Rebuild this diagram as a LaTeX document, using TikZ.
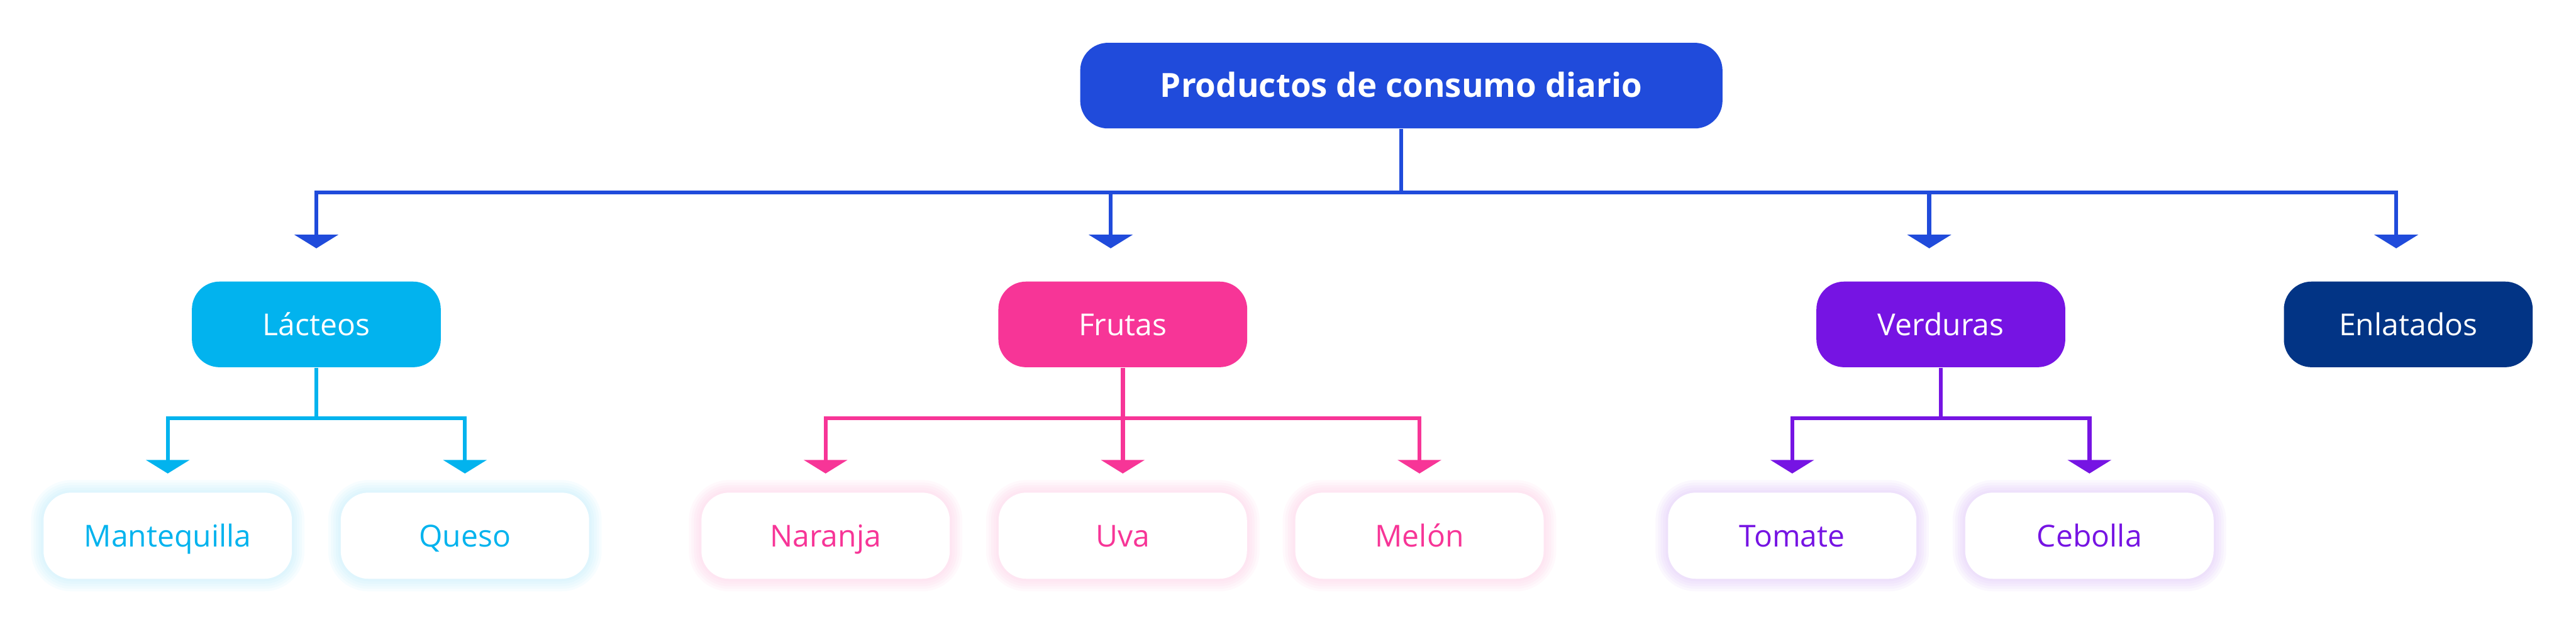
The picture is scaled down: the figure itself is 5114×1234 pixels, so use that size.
\documentclass[tikz,border=0pt]{standalone}
\usepackage{fontspec}
\setmainfont{Open Sans}
\usetikzlibrary{arrows.meta,calc}
\definecolor{rootblue}{HTML}{204BDB}
\definecolor{lacc}{HTML}{02B3EE}
\definecolor{fruc}{HTML}{F73597}
\definecolor{verc}{HTML}{7614E3}
\definecolor{enlc}{HTML}{023485}
\tikzset{tri/.tip={Triangle[length=5.4pt,width=17.2pt]}}
\begin{document}
\begin{tikzpicture}[x=0.2pt,y=-0.2pt,
  box/.style={rounded corners=11pt, inner sep=0pt, text height=8.6pt, text depth=0pt,
    font=\fontsize{12}{14}\selectfont},
  rootbox/.style={box, fill=rootblue, text=white, minimum width=255pt, minimum height=34pt,
    text height=9.4pt, font=\bfseries\fontsize{13.2}{15}\selectfont},
  catbox/.style={box, fill=#1, text=white, minimum width=98.8pt, minimum height=34pt},
  leafbox/.style={box, fill=white, text=#1, minimum width=98.6pt, minimum height=34.2pt,
    preaction={draw=#1!20, line width=10pt, draw opacity=0.15},
    preaction={draw=#1!20, line width=8pt, draw opacity=0.16},
    preaction={draw=#1!20, line width=6pt, draw opacity=0.18},
    preaction={draw=#1!20, line width=4pt, draw opacity=0.2},
    preaction={draw=#1!20, line width=2pt, draw opacity=0.22}},
  conn/.style={draw=#1, line width=1.6pt}
]
\useasboundingbox (0,0) rectangle (5114,1234);

% nodes
\node[rootbox] (root) at (2782,170) {Productos de consumo diario};
\node[catbox=lacc] (lac) at (628,644) {Lácteos};
\node[catbox=fruc] (fru) at (2229,644) {Frutas};
\node[catbox=verc] (ver) at (3853,644) {Verduras};
\node[catbox=enlc] (enl) at (4781,644) {Enlatados};

\node[leafbox=lacc] (mant) at (333,1063.5) {Mantequilla};
\node[leafbox=lacc] (queso) at (923,1063.5) {Queso};
\node[leafbox=fruc] (nar) at (1639,1063.5) {Naranja};
\node[leafbox=fruc] (uva) at (2229,1063.5) {Uva};
\node[leafbox=fruc] (mel) at (2818,1063.5) {Melón};
\node[leafbox=verc] (tom) at (3558,1063.5) {Tomate};
\node[leafbox=verc] (ceb) at (4148,1063.5) {Cebolla};

% main connectors
\coordinate (busc) at (2782,382);
\coordinate (t1) at (628,493);
\coordinate (b2) at (2205,382);
\coordinate (t2) at (2205,493);
\coordinate (b3) at (3830,382);
\coordinate (t3) at (3830,493);
\coordinate (t4) at (4757,493);
\draw[conn=rootblue] (root.south) -- (busc);
\draw[conn=rootblue, tri-tri] (t1) |- (busc) -| (t4);
\draw[conn=rootblue, -tri] (b2) -- (t2);
\draw[conn=rootblue, -tri] (b3) -- (t3);

% Lacteos
\coordinate (lsub) at (628,830);
\draw[conn=lacc] (lac.south) -- (lsub);
\draw[conn=lacc, tri-tri] ($(mant.north)+(0,-37)$) |- (lsub) -| ($(queso.north)+(0,-37)$);

% Frutas
\coordinate (fsub) at (2229,830);
\draw[conn=fruc] (fru.south) -- (fsub);
\draw[conn=fruc, tri-tri] ($(nar.north)+(0,-37)$) |- (fsub) -| ($(mel.north)+(0,-37)$);
\draw[conn=fruc, -tri] (fsub) -- ($(uva.north)+(0,-37)$);

% Verduras
\coordinate (vsub) at (3853,830);
\draw[conn=verc] (ver.south) -- (vsub);
\draw[conn=verc, tri-tri] ($(tom.north)+(0,-37)$) |- (vsub) -| ($(ceb.north)+(0,-37)$);
\end{tikzpicture}
\end{document}
